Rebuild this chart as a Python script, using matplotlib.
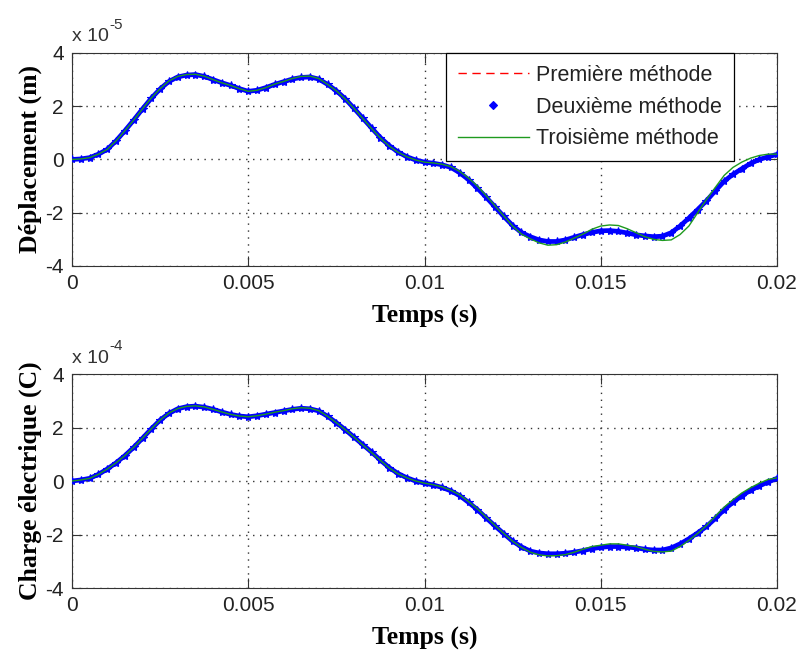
import matplotlib
matplotlib.use('Agg')
import matplotlib.pyplot as plt

# time axis (s), sampled every 0.25 ms
temps = [i * 0.00025 for i in range(81)]

# Déplacement (x 1e-5 m)
dep_deux = [0, 0.02, 0.07, 0.2, 0.38, 0.7, 1.08, 1.48, 1.9, 2.3,
            2.65, 2.93, 3.1, 3.17, 3.19, 3.12, 3.0, 2.88, 2.78, 2.66,
            2.56, 2.6, 2.7, 2.82, 2.92, 3.02, 3.08, 3.1, 3.02, 2.82,
            2.58, 2.28, 1.92, 1.55, 1.18, 0.82, 0.52, 0.28, 0.1, -0.02,
            -0.1, -0.14, -0.2, -0.3, -0.5, -0.76, -1.08, -1.42, -1.78, -2.14,
            -2.48, -2.74, -2.9, -3.02, -3.08, -3.08, -3.02, -2.92, -2.82, -2.74,
            -2.68, -2.67, -2.7, -2.76, -2.83, -2.87, -2.9, -2.88, -2.75, -2.5,
            -2.2, -1.88, -1.55, -1.18, -0.82, -0.56, -0.35, -0.15, 0.0, 0.1,
            0.19]
dep_prem = [0, 0.02, 0.07, 0.2, 0.38, 0.7, 1.08, 1.48, 1.9, 2.3,
            2.65, 2.93, 3.1, 3.17, 3.19, 3.12, 3.0, 2.88, 2.78, 2.66,
            2.56, 2.6, 2.7, 2.82, 2.92, 3.02, 3.08, 3.1, 3.02, 2.82,
            2.58, 2.28, 1.92, 1.55, 1.18, 0.82, 0.52, 0.28, 0.1, -0.02,
            -0.1, -0.14, -0.2, -0.3, -0.5, -0.76, -1.08, -1.42, -1.78, -2.14,
            -2.5, -2.76, -2.93, -3.06, -3.12, -3.12, -3.04, -2.92, -2.8, -2.7,
            -2.64, -2.64, -2.7, -2.78, -2.86, -2.92, -2.95, -2.93, -2.8, -2.52,
            -2.2, -1.86, -1.52, -1.15, -0.8, -0.52, -0.32, -0.12, 0.02, 0.12,
            0.2]
dep_trois = [0, 0.02, 0.07, 0.2, 0.38, 0.7, 1.08, 1.48, 1.9, 2.31,
             2.66, 2.95, 3.12, 3.19, 3.2, 3.13, 3.0, 2.88, 2.78, 2.66,
             2.56, 2.6, 2.7, 2.83, 2.93, 3.04, 3.12, 3.13, 3.04, 2.82,
             2.58, 2.27, 1.92, 1.54, 1.16, 0.8, 0.5, 0.27, 0.1, -0.02,
             -0.1, -0.13, -0.18, -0.27, -0.45, -0.7, -1.0, -1.36, -1.74, -2.12,
             -2.5, -2.8, -2.98, -3.13, -3.22, -3.2, -3.1, -2.95, -2.8, -2.62,
             -2.5, -2.46, -2.48, -2.6, -2.75, -2.9, -3.0, -3.04, -3.02, -2.82,
             -2.5, -2.0, -1.5, -1.05, -0.6, -0.3, -0.1, 0.05, 0.15, 0.2,
             0.2]

# Charge électrique (x 1e-4 C)
ch_deux = [0, 0.04, 0.1, 0.25, 0.45, 0.68, 0.95, 1.26, 1.6, 1.95,
           2.28, 2.53, 2.7, 2.78, 2.8, 2.76, 2.68, 2.58, 2.49, 2.43,
           2.4, 2.44, 2.5, 2.56, 2.62, 2.68, 2.72, 2.7, 2.62, 2.42,
           2.18, 1.92, 1.64, 1.36, 1.08, 0.78, 0.5, 0.28, 0.12, 0.0,
           -0.08, -0.15, -0.24, -0.37, -0.55, -0.8, -1.07, -1.38, -1.68, -1.97,
           -2.25, -2.46, -2.62, -2.69, -2.72, -2.72, -2.7, -2.66, -2.6, -2.53,
           -2.48, -2.45, -2.45, -2.47, -2.5, -2.55, -2.58, -2.58, -2.5, -2.35,
           -2.16, -1.94, -1.7, -1.4, -1.07, -0.8, -0.55, -0.35, -0.18, -0.04,
           0.1]
ch_prem = [0, 0.04, 0.1, 0.25, 0.45, 0.68, 0.95, 1.26, 1.6, 1.95,
           2.28, 2.53, 2.7, 2.78, 2.8, 2.76, 2.68, 2.58, 2.49, 2.43,
           2.4, 2.44, 2.5, 2.56, 2.62, 2.68, 2.72, 2.7, 2.62, 2.42,
           2.18, 1.92, 1.64, 1.36, 1.08, 0.78, 0.5, 0.28, 0.12, 0.0,
           -0.08, -0.15, -0.24, -0.37, -0.55, -0.8, -1.07, -1.38, -1.68, -1.97,
           -2.26, -2.48, -2.64, -2.72, -2.75, -2.74, -2.71, -2.66, -2.59, -2.51,
           -2.46, -2.42, -2.43, -2.47, -2.52, -2.58, -2.6, -2.59, -2.52, -2.36,
           -2.16, -1.93, -1.68, -1.38, -1.05, -0.78, -0.52, -0.32, -0.15, -0.02,
           0.1]
ch_trois = [0, 0.04, 0.1, 0.25, 0.45, 0.68, 0.95, 1.26, 1.6, 1.95,
            2.28, 2.54, 2.71, 2.79, 2.81, 2.77, 2.68, 2.58, 2.49, 2.43,
            2.4, 2.44, 2.5, 2.57, 2.63, 2.7, 2.74, 2.72, 2.63, 2.42,
            2.18, 1.92, 1.64, 1.35, 1.06, 0.77, 0.49, 0.27, 0.12, 0.0,
            -0.08, -0.14, -0.22, -0.35, -0.52, -0.77, -1.04, -1.35, -1.66, -1.96,
            -2.25, -2.48, -2.66, -2.76, -2.8, -2.79, -2.75, -2.66, -2.55, -2.45,
            -2.4, -2.35, -2.35, -2.4, -2.45, -2.55, -2.63, -2.65, -2.62, -2.45,
            -2.22, -1.96, -1.66, -1.32, -0.98, -0.7, -0.45, -0.25, -0.08, 0.06,
            0.12]

xticks = [0, 0.005, 0.01, 0.015, 0.02]
xticklabels = ['0', '0.005', '0.01', '0.015', '0.02']
yticks = [-4, -2, 0, 2, 4]

noms = ['Première méthode', 'Deuxième méthode', 'Troisième méthode']

sans = 'Liberation Sans'
serif = 'Liberation Serif'

fig = plt.figure(figsize=(8.03, 6.54), dpi=100)
ax1 = fig.add_axes([0.0897, 0.5933, 0.8779, 0.3257])
ax2 = fig.add_axes([0.0897, 0.1009, 0.8779, 0.3272])


def trace(ax, prem, deux, trois, ylabel, expo, legende=False):
    ax.plot(temps, prem, color='red', linestyle=(0, (6, 4)), lw=1, label=noms[0], zorder=2)
    ax.plot(temps, deux, color='blue', linestyle='-', lw=3.4, marker='*', ms=6,
            mew=0.8, label=noms[1], zorder=3)
    ax.plot(temps, trois, color='#1f9a1f', lw=1, label=noms[2], zorder=4)
    ax.set_xlim(0, 0.02)
    ax.set_ylim(-4, 4)
    ax.set_xticks(xticks)
    ax.set_xticklabels(xticklabels)
    ax.set_yticks(yticks)
    ax.set_yticklabels([str(v) for v in yticks])
    ax.grid(True, color='#333333', linestyle=(0, (1, 4)), lw=1)
    ax.tick_params(direction='in', length=7, top=True, right=True,
                   labelsize=15, colors='#333333', pad=6)
    for lab in ax.get_xticklabels() + ax.get_yticklabels():
        lab.set_family(sans)
        lab.set_color('#222222')
    for sp in ax.spines.values():
        sp.set_color('#333333')
    ax.set_xlabel('Temps (s)', family=serif, weight='bold', fontsize=18.5, labelpad=8)
    ax.set_ylabel(ylabel, family=serif, weight='bold', fontsize=18.5, labelpad=2)
    # MATLAB style exponent label above the y axis
    ax.annotate('x 10', xy=(0, 1), xycoords='axes fraction', xytext=(0, 16),
                textcoords='offset pixels', family=sans, fontsize=14,
                color='#333333', va='center', ha='left')
    ax.annotate(expo, xy=(0, 1), xycoords='axes fraction', xytext=(37, 28),
                textcoords='offset pixels', family=sans, fontsize=11,
                color='#333333', va='center', ha='left')
    if legende:
        leg = ax.legend(loc='upper left', bbox_to_anchor=(0.5305, 1.0), borderaxespad=0,
                        prop={'family': sans, 'size': 15.5}, fancybox=False,
                        edgecolor='black', framealpha=1, handlelength=3.3,
                        borderpad=0.55, labelspacing=0.5, handletextpad=0.35)
        leg.get_frame().set_linewidth(0.9)
        h = leg.legend_handles[1]
        h.set_linestyle('none')
        h.set_marker('D')
        h.set_markersize(4)
        for t in leg.get_texts():
            t.set_color('#222222')


trace(ax1, dep_prem, dep_deux, dep_trois, 'Déplacement (m)', '-5', legende=True)
trace(ax2, ch_prem, ch_deux, ch_trois, 'Charge électrique (C)', '-4')

fig.savefig('out.png', dpi=100)
